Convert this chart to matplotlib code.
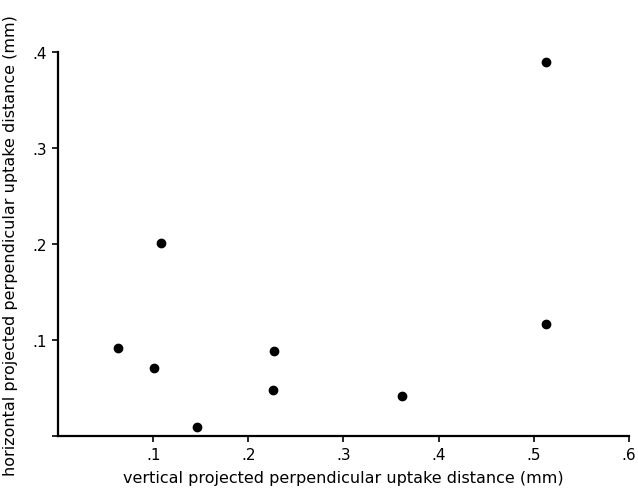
import matplotlib.pyplot as plt

# vertical / horizontal projected perpendicular uptake distance (mm)
vert = [0.063, 0.101, 0.108, 0.146, 0.227, 0.226, 0.361, 0.513, 0.513]
horiz = [0.092, 0.071, 0.201, 0.009, 0.089, 0.048, 0.042, 0.117, 0.390]

xticks = [0.1, 0.2, 0.3, 0.4, 0.5, 0.6]
xlabels = ['.1', '.2', '.3', '.4', '.5', '.6']
yticks = [0.0, 0.1, 0.2, 0.3, 0.4]
ylabels = ['', '.1', '.2', '.3', '.4']

fig = plt.figure(figsize=(6.38, 4.89), dpi=100)
ax = fig.add_axes([0.0909, 0.1063, 0.895, 0.785])

ax.plot(vert, horiz, 'o', color='black', markersize=6, clip_on=False)

ax.set_xlim(0, 0.6)
ax.set_ylim(0, 0.4)
ax.set_xticks(xticks)
ax.set_xticklabels(xlabels)
ax.set_yticks(yticks)
ax.set_yticklabels(ylabels)

for s in ['top', 'right']:
    ax.spines[s].set_visible(False)
for s in ['left', 'bottom']:
    ax.spines[s].set_linewidth(1.6)

ax.tick_params(direction='out', length=4, width=1.2, labelsize=11, pad=4)

ax.set_xlabel('vertical projected perpendicular uptake distance (mm)', fontsize=11.5, labelpad=6)
ax.set_ylabel('horizontal projected perpendicular uptake distance (mm)', fontsize=11.5, labelpad=10)

fig.savefig('out.png', dpi=100)
plt.close(fig)
